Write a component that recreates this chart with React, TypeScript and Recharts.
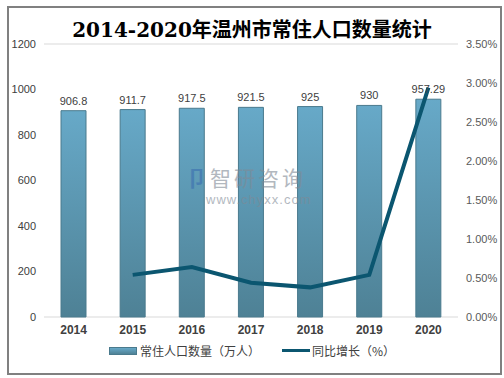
// 温州市常住人口 柱状 + 同比增长 折线
import React from 'react'
import {
  ComposedChart, Bar, Line, XAxis, YAxis, CartesianGrid, Legend, LabelList
} from 'recharts'

const years = ['2014', '2015', '2016', '2017', '2018', '2019', '2020']
const population = [906.8, 911.7, 917.5, 921.5, 925, 930, 957.29]
const growth = [null, 0.0054, 0.0064, 0.0044, 0.0038, 0.0054, 0.0294]
const leftTicks = [0, 200, 400, 600, 800, 1000, 1200]
const rightTicks = [0, 0.005, 0.01, 0.015, 0.02, 0.025, 0.03, 0.035]

const data = years.map((y, i) => ({
  year: y,
  pop: population[i],
  rate: growth[i]
}))

const cjk = '"Noto Sans CJK SC", "DejaVu Sans", sans-serif'
const sans = '"Liberation Sans", "DejaVu Sans", sans-serif'

const renderLegend = () => (
  <div style={{ display: 'flex', justifyContent: 'center', alignItems: 'center', fontFamily: cjk, fontSize: 12, color: '#404040' }}>
    <span style={{ display: 'inline-block', width: 26, height: 6, background: 'linear-gradient(#67a9c8, #4f8296)', border: '1px solid #4a7a8d', marginRight: 3 }} />
    <span style={{ marginRight: 22 }}>常住人口数量（万人）</span>
    <span style={{ display: 'inline-block', width: 28, height: 3, background: '#0b5670', marginRight: 2 }} />
    <span>同比增长（%）</span>
  </div>
)

const App: React.FC = () => {
  return (
    <div style={{ position: 'absolute', left: 0, top: 0, width: 504, height: 378, background: '#fff' }}>
      <div style={{ position: 'absolute', left: 7, top: 6, width: 491, height: 365, border: '2px solid #808080', boxSizing: 'content-box' }} />
      <div style={{ position: 'absolute', left: 0, top: 14, width: 504, textAlign: 'center', fontFamily: '"DejaVu Serif", "Noto Sans CJK SC", serif', fontWeight: 'bold', fontSize: 20, color: '#000' }}>
        2014-2020年温州市常住人口数量统计
      </div>
      <ComposedChart
        width={504}
        height={378}
        data={data}
        margin={{ top: 44, right: 0, bottom: 12, left: 0 }}
        style={{ position: 'absolute', left: 0, top: 0 }}
      >
        <defs>
          <linearGradient id="barGrad" x1="0" y1="0" x2="0" y2="1">
            <stop offset="0%" stopColor="#67a9c8" />
            <stop offset="100%" stopColor="#4e8195" />
          </linearGradient>
        </defs>
        <CartesianGrid vertical={false} stroke="#d9d9d9" />
        <XAxis
          dataKey="year"
          axisLine={false}
          tickLine={false}
          height={25}
          tick={{ fontSize: 12, fontWeight: 'bold', fill: '#404040', fontFamily: sans }}
        />
        <YAxis
          yAxisId="left"
          domain={[0, 1200]}
          ticks={leftTicks}
          axisLine={false}
          tickLine={false}
          width={44}
          tick={{ fontSize: 11, fill: '#404040', fontFamily: sans }}
        />
        <YAxis
          yAxisId="right"
          orientation="right"
          domain={[0, 0.035]}
          ticks={rightTicks}
          axisLine={false}
          tickLine={false}
          width={46}
          tickFormatter={(v: number) => (v * 100).toFixed(2) + '%'}
          tick={{ fontSize: 11, fill: '#595959', fontFamily: sans }}
        />
        <Legend verticalAlign="bottom" height={24} content={renderLegend} />
        <Bar yAxisId="left" dataKey="pop" barSize={25} fill="url(#barGrad)" stroke="#4a7a8d" strokeWidth={1} isAnimationActive={false}>
          <LabelList dataKey="pop" position="top" offset={6} style={{ fontSize: 11, fill: '#404040', fontFamily: sans }} />
        </Bar>
        <Line yAxisId="right" dataKey="rate" stroke="#0b5670" strokeWidth={4} dot={false} isAnimationActive={false} connectNulls={false} />
      </ComposedChart>
      <div style={{ position: 'absolute', left: 186, top: 164, fontFamily: cjk, fontSize: 21, lineHeight: '26px', color: '#7f8a96', opacity: 0.6, letterSpacing: 3, pointerEvents: 'none' }}>
        <span style={{ color: '#3b6fb0', fontWeight: 'bold' }}>卩</span>智研咨询
      </div>
      <div style={{ position: 'absolute', left: 206, top: 192, fontFamily: sans, fontSize: 13, lineHeight: '16px', color: '#7f8a96', opacity: 0.6, letterSpacing: 1, pointerEvents: 'none' }}>
        www.chyxx.com
      </div>
    </div>
  )
}

export default App
